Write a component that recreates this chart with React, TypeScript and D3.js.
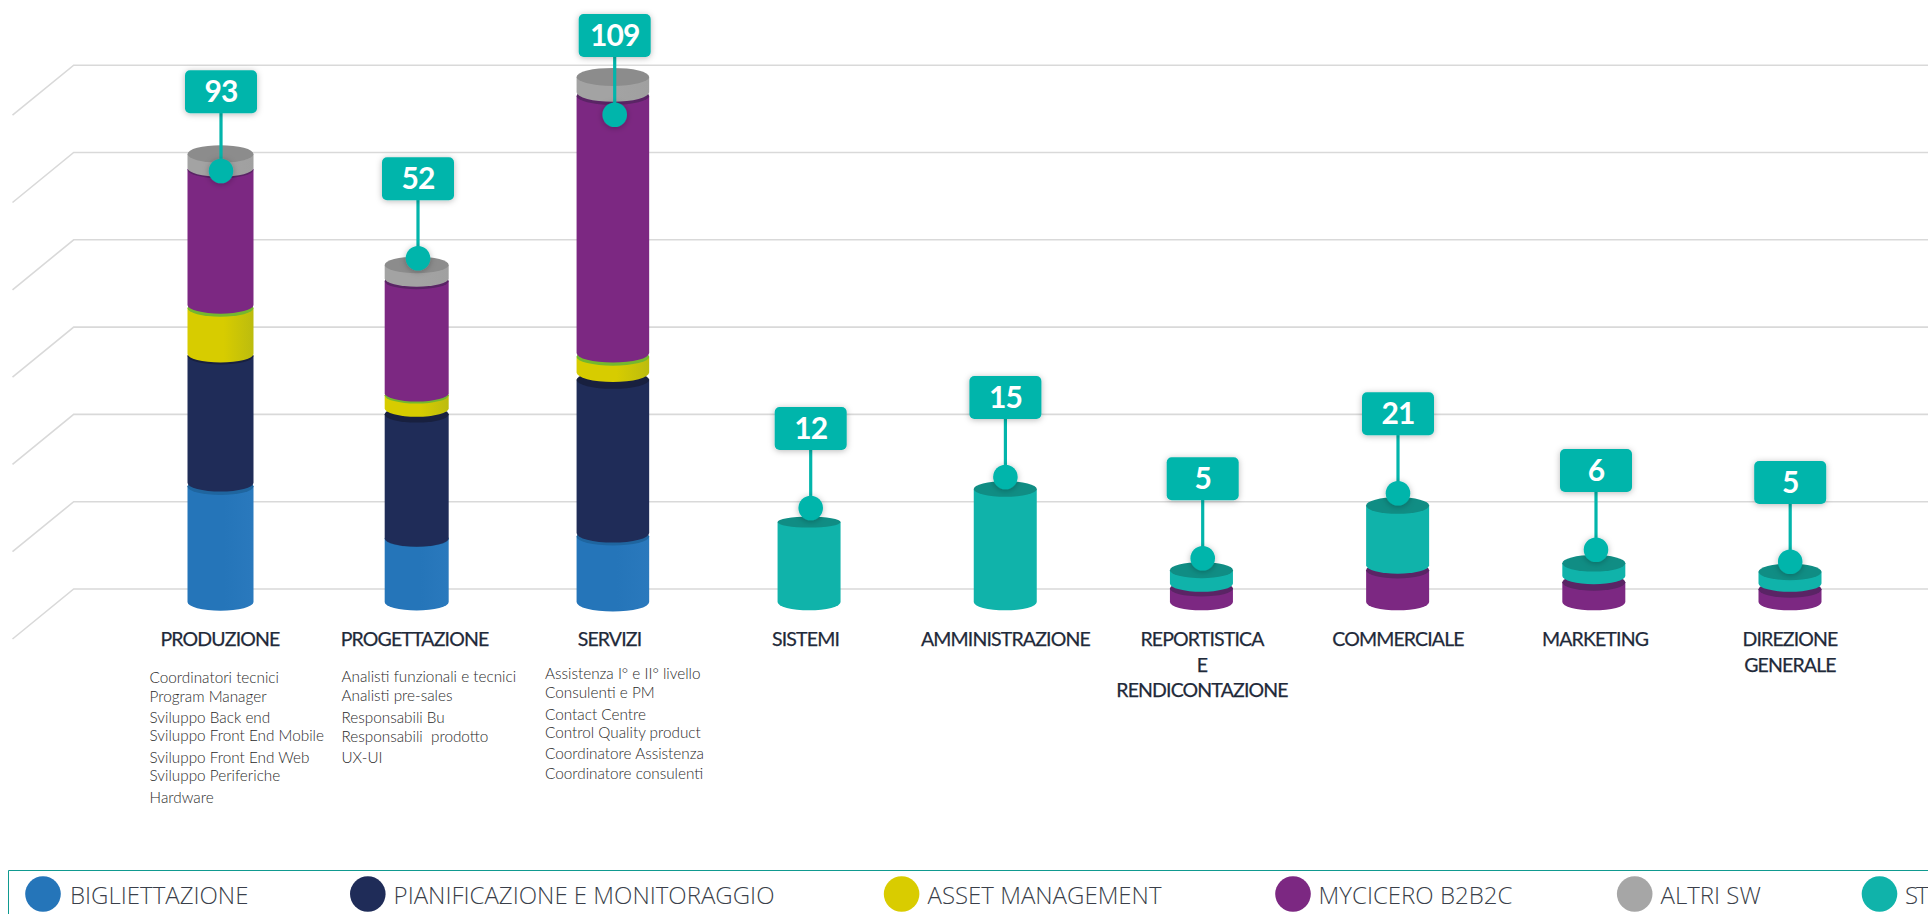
import React from "react";
import * as d3 from "d3";

const WIDTH = 1928;
const HEIGHT = 914;

const categories = ["PRODUZIONE","PROGETTAZIONE","SERVIZI","SISTEMI","AMMINISTRAZIONE","REPORTISTICA","COMMERCIALE","MARKETING","DIREZIONE"];
const categoryLines = [["PRODUZIONE"],["PROGETTAZIONE"],["SERVIZI"],["SISTEMI"],["AMMINISTRAZIONE"],["REPORTISTICA","E","RENDICONTAZIONE"],["COMMERCIALE"],["MARKETING"],["DIREZIONE","GENERALE"]];
const totals = [93,52,109,12,15,5,21,6,5];

// Segment heights (grid step = 20)
const bigliettazione = [26.5,14.5,15,0,0,0,0,0,0];
const pianificazione = [29.1,28.4,35.1,0,0,0,0,0,0];
const assetManagement = [10.5,3,3.6,0,0,0,0,0,0];
const mycicero = [31,25.7,58.9,0,0,3.1,7.3,4.5,2.9];
const altriSw = [3.2,3.05,3.5,0,0,0,0,0,0];
const lastSeries = [0,0,0,18.3,25.9,3.05,13.7,2.9,2.66];

// Small visible gap above each segment, same units
const gapBig = [0.8,0.1,0.8,0,0,0,0,0,0];
const gapPian = [0.46,1.37,1.7,0,0,0,0,0,0];
const gapAsset = [0.7,0.48,0.85,0,0,0,0,0,0];
const gapMyc = [0.37,0.62,0.85,0,0,1.15,1.1,1.47,1.35];
const gapAltri = [0,0,0,0,0,0,0,0,0];
const gapLast = [0,0,0,0,0,0,0,0,0];

// The last legend entry is cut by the right edge of the reference: only "ST" can be read
const legendLabels = ["BIGLIETTAZIONE","PIANIFICAZIONE E MONITORAGGIO","ASSET MANAGEMENT","MYCICERO B2B2C","ALTRI SW","ST"];
const sideColors = ["#2575b9","#1f2c58","#d7cc00","#7c2882","#a3a3a3","#10b3aa"];
const edgeColors = ["#2a79bd","#1f2c58","#bcbc0e","#7c2882","#a0a0a0","#10b3aa"];
const capColors = ["#1f659f","#18203f","#74b72e","#5a2465","#8c8c8c","#108d84"];
const legendColors = ["#2575b9","#1f2c58","#d9cc00","#7c2882","#a6a6a6","#10b3aa"];

const detailLists = [
  ["Coordinatori tecnici","Program Manager","Sviluppo Back end","Sviluppo Front End Mobile","Sviluppo Front End Web","Sviluppo Periferiche","Hardware"],
  ["Analisti funzionali e tecnici","Analisti pre-sales","Responsabili Bu","Responsabili  prodotto","UX-UI"],
  ["Assistenza I° e II° livello","Consulenti e PM","Contact Centre","Control Quality product","Coordinatore Assistenza","Coordinatore consulenti"],
];

const seriesValues = [bigliettazione,pianificazione,assetManagement,mycicero,altriSw,lastSeries];
const seriesGaps = [gapBig,gapPian,gapAsset,gapMyc,gapAltri,gapLast];

// Layout
const y = d3.scaleLinear().domain([0,120]).range([602,78.2]);
const x = d3.scalePoint().domain(categories).range([220.5,1790]);
const gridTicks = d3.range(0,121,20);
const barWidths = [66,64,72.6,63,63,63,63,63,63];
const capRy = [8.7,8.3,9,5.5,7.8,8,8.3,8.3,8.3];
const badgeBox = [
  [221,70.3,171],[418,157.3,258.3],[614.7,14,114.7],[810.7,407,508],[1005.4,376,477],
  [1202.7,457.3,558.3],[1398,392.3,493.3],[1596,449,549.7],[1790.2,461,561.7],
];
const labelX = [220,414.5,609.5,805.5,1005.4,1202,1398,1595,1790];
const labelLineY = [646,672,697];
const detailX = [149.6,341.5,545];
const detailY = [
  [683.3,701.7,723,741.3,763.3,781.3,803.3],
  [682.3,700.7,722.7,741.7,762.7],
  [679.3,698.3,720.3,738.3,759.3,779.3],
];
const legendCx = [43,367.8,901.6,1293,1634.7,1879.5];
const legendTx = [70,393.6,927.5,1318.6,1660.5,1905];
const TEAL = "#02b5ab";
const FONT = "Lato, 'Open Sans', sans-serif";

function App() {
  const bars = categories.map((c, i) => {
    const w = barWidths[i];
    const cx = x(c) as number;
    const rx = w / 2;
    const ry = w * 0.132;
    let cur = 0;
    const segs: any[] = [];
    seriesValues.forEach((vals, s) => {
      const v = vals[i];
      if (v > 0) {
        const y1 = y(cur);
        const y0 = y(cur + v);
        segs.push({ s, y0, y1 });
        cur += v + seriesGaps[s][i];
      }
    });
    return { c, i, cx, rx, ry, segs };
  });

  return (
    <svg width={WIDTH} height={HEIGHT} viewBox={`0 0 ${WIDTH} ${HEIGHT}`}
      style={{ position: "absolute", left: 0, top: 0, display: "block", background: "#fff" }}>
      <defs>
        {sideColors.map((col, s) => (
          <linearGradient key={s} id={`side${s}`} x1="0" x2="1" y1="0" y2="0">
            <stop offset="0" stopColor={col} />
            <stop offset="0.55" stopColor={col} />
            <stop offset="1" stopColor={edgeColors[s]} />
          </linearGradient>
        ))}
        <filter id="soft" x="-30%" y="-30%" width="160%" height="170%">
          <feDropShadow dx="0" dy="1" stdDeviation="3" floodColor="#000" floodOpacity="0.28" />
        </filter>
      </defs>

      <g stroke="#d9d9d9" strokeWidth={1.6} fill="none">
        {gridTicks.map((t) => (
          <path key={t} d={`M12.5 ${y(t) + 37}L73.7 ${y(t) - 13}L${WIDTH} ${y(t) - 13}`} />
        ))}
      </g>

      {bars.map((b) => (
        <g key={b.c}>
          {b.segs.map((g: any) => (
            <g key={g.s}>
              <path
                d={`M${b.cx - b.rx} ${g.y0}L${b.cx - b.rx} ${g.y1}A${b.rx} ${b.ry} 0 0 0 ${b.cx + b.rx} ${g.y1}L${b.cx + b.rx} ${g.y0}Z`}
                fill={`url(#side${g.s})`}
              />
              <ellipse cx={b.cx} cy={g.y0} rx={b.rx} ry={capRy[b.i]} fill={capColors[g.s]} />
            </g>
          ))}
        </g>
      ))}

      {totals.map((t, i) => {
        const [bx, top, dot] = badgeBox[i];
        return (
          <g key={i}>
            <line x1={bx} x2={bx} y1={top + 40} y2={dot} stroke={TEAL} strokeWidth={3.2} />
            <circle cx={bx} cy={dot} r={12.3} fill={TEAL} filter="url(#soft)" />
            <rect x={bx - 36} y={top} width={72} height={43} rx={5} fill={TEAL} filter="url(#soft)" />
            <text x={bx} y={top + 32} textAnchor="middle" fill="#fff" fontFamily={FONT} fontWeight={700} fontSize={30} letterSpacing={-1}>{t}</text>
          </g>
        );
      })}

      {categoryLines.map((lines, i) => (
        <text key={i} textAnchor="middle" fill="#1f2a3a" stroke="#1f2a3a" strokeWidth={0.25} fontFamily={FONT} fontSize={19.5} letterSpacing={-0.85}>
          {lines.map((l, k) => (
            <tspan key={k} x={labelX[i]} y={labelLineY[k]}>{l}</tspan>
          ))}
        </text>
      ))}

      {detailLists.map((list, i) => (
        <text key={i} fill="#2a2a2a" fontFamily={FONT} fontSize={15.3} fontWeight={300} xmlSpace="preserve">
          {list.map((l, k) => (
            <tspan key={k} x={detailX[i]} y={detailY[i][k]}>{l}</tspan>
          ))}
        </text>
      ))}

      <path d={`M8.5 ${HEIGHT}V870.5H${WIDTH}`} fill="none" stroke="#0f9a90" strokeWidth={1} />
      {legendLabels.map((l, i) => (
        <g key={l}>
          <circle cx={legendCx[i]} cy={894} r={17.8} fill={legendColors[i]} />
          <text x={legendTx[i]} y={904} fill="#3a3f4a" fontFamily="'Open Sans', sans-serif" fontSize={24} fontWeight={300} letterSpacing={l === "ST" ? -2 : 0}>{l}</text>
        </g>
      ))}
    </svg>
  );
}

export default App;
